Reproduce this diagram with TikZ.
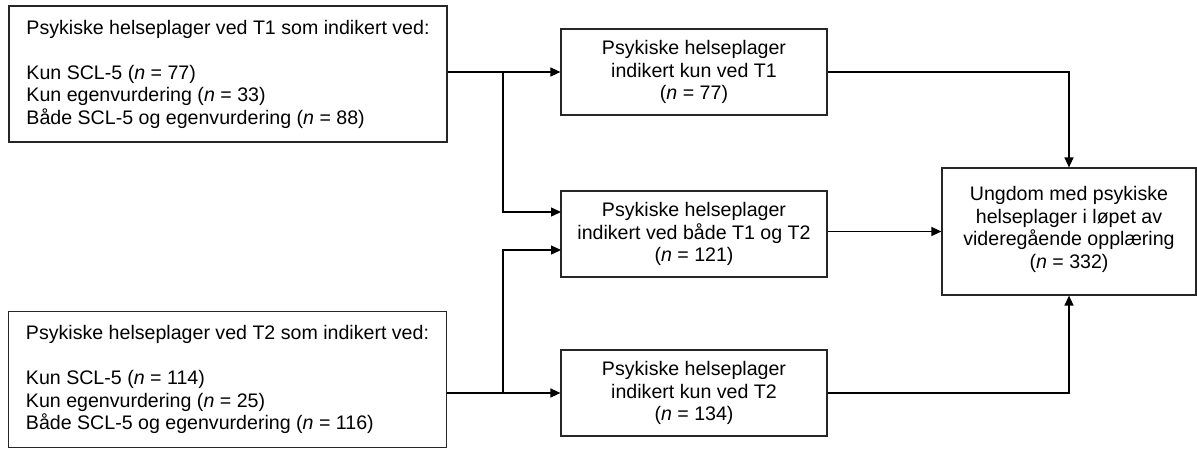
\documentclass[tikz,border=0pt]{standalone}
\usepackage{fontspec}
\setmainfont{Liberation Sans}
\usetikzlibrary{arrows.meta}
\begin{document}
\begin{tikzpicture}[x=1pt,y=-1pt,
  box/.style={draw=black!85,line width=1.2pt,inner sep=0pt,
    font=\fontsize{19.6pt}{22.5pt}\selectfont},
  srcbox/.style={box,align=left,minimum width=438pt,minimum height=136pt},
  midbox/.style={box,align=center,minimum width=266pt,minimum height=86pt},
  endbox/.style={box,align=center,minimum width=254pt,minimum height=127pt},
  conn/.style={line width=1.4pt,black},
  arr/.style={conn,-{Triangle[length=10pt,width=9pt]}}]
\fill[white] (0,0) rectangle (1197,448);
\useasboundingbox (0,0) rectangle (1197,448);
\node[srcbox] (A) at (228,74) {Psykiske helseplager ved T1 som indikert ved:\\[22.5pt]
Kun SCL-5 (\textit{n} = 77)\\Kun egenvurdering (\textit{n} = 33)\\Både SCL-5 og egenvurdering (\textit{n} = 88)};
\node[srcbox] (E) at (227.5,379.5) {Psykiske helseplager ved T2 som indikert ved:\\[22.5pt]
Kun SCL-5 (\textit{n} = 114)\\Kun egenvurdering (\textit{n} = 25)\\Både SCL-5 og egenvurdering (\textit{n} = 116)};
\node[midbox] (B) at (694,72) {Psykiske helseplager\\indikert kun ved T1\\(\textit{n} = 77)};
\node[midbox] (C) at (694,234) {Psykiske helseplager\\indikert ved både T1 og T2\\(\textit{n} = 121)};
\node[midbox] (D) at (694,393) {Psykiske helseplager\\indikert kun ved T2\\(\textit{n} = 134)};
\node[endbox] (F) at (1069,231.5) {Ungdom med psykiske\\helseplager i løpet av\\videregående opplæring\\(\textit{n} = 332)\\[-14pt]\mbox{}};
\coordinate (j1) at (503,72);
\coordinate (j2) at (503,393);
\coordinate (cin1) at (561,212);
\coordinate (cin2) at (561,250);
\draw[arr] (A.east |- B.west) -- (B.west);
\draw[arr] (j1) |- (cin1);
\draw[arr] (E.east |- D.west) -- (D.west);
\draw[arr] (j2) |- (cin2);
\draw[arr] (B.east) -| (F.north);
\draw[arr] (C.east |- F.west) -- (F.west);
\draw[arr] (D.east) -| (F.south);
\end{tikzpicture}
\end{document}
